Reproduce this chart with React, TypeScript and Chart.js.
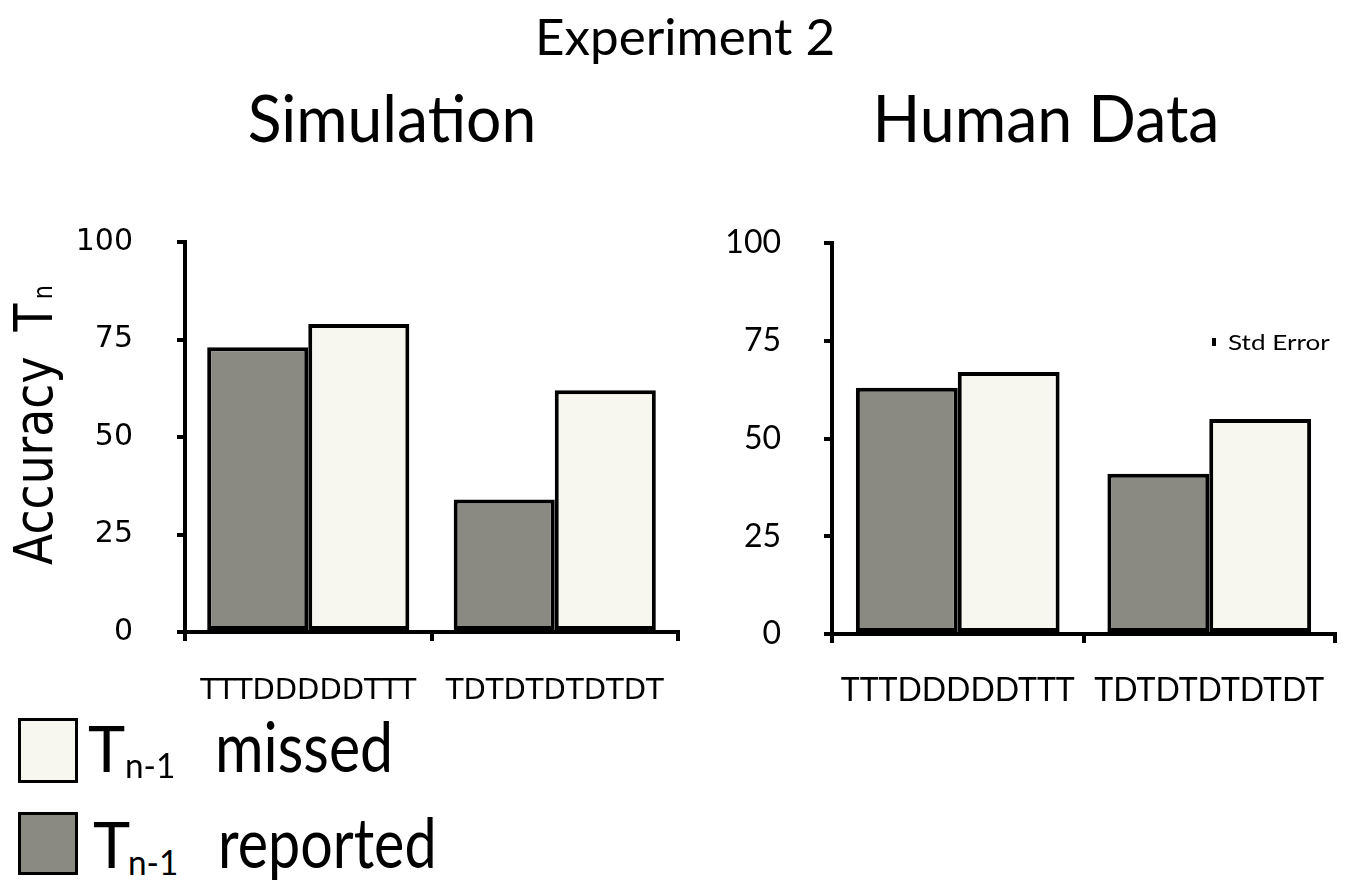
import React, { useEffect, useLayoutEffect, useRef, useState } from "react";
import { Chart, registerables } from "chart.js";

Chart.register(...registerables);

const categories = ["TTTDDDDDTTT", "TDTDTDTDTDT"];
const simReported = [73, 34];
const simMissed = [79, 62];
const humanReported = [63, 41];
const humanMissed = [67, 55];
const yMin = 0;
const yMax = 100;
const yStep = 25;

const DARK = "#8a8a82";
const LIGHT = "#f7f7f0";
const LATO = "Lato, 'Open Sans', sans-serif";
const DEJAVU = "'DejaVu Sans', Verdana, sans-serif";

type ChartProps = {
  left: number;
  top: number;
  width: number;
  height: number;
  area: { left: number; right: number; top: number; bottom: number };
  reported: number[];
  missed: number[];
  tickFont: { family: string; size: number };
  xFont: { family: string; size: number };
  yPad: number;
  xPad: number;
  catPct: number;
};

function BarChart(p: ChartProps) {
  const ref = useRef<HTMLCanvasElement>(null);
  useEffect(() => {
    const ctx = ref.current!;
    const chart = new Chart(ctx, {
      type: "bar",
      data: {
        labels: categories,
        datasets: [
          {
            label: "Tn-1 reported",
            data: p.reported,
            backgroundColor: DARK,
            borderColor: "#000",
            borderWidth: 4,
            borderSkipped: false,
          },
          {
            label: "Tn-1 missed",
            data: p.missed,
            backgroundColor: LIGHT,
            borderColor: "#000",
            borderWidth: 4,
            borderSkipped: false,
          },
        ],
      },
      options: {
        responsive: false,
        animation: false,
        devicePixelRatio: 1,
        datasets: { bar: { categoryPercentage: p.catPct, barPercentage: 1 } },
        layout: {
          padding: {
            left: 0,
            top: p.area.top,
            right: p.width - p.area.right,
            bottom: 0,
          },
        },
        plugins: { legend: { display: false }, tooltip: { enabled: false }, title: { display: false } },
        scales: {
          x: {
            type: "category",
            offset: true,
            grid: {
              display: true,
              offset: true,
              drawOnChartArea: false,
              drawTicks: true,
              tickLength: 9,
              color: "#000",
              lineWidth: 4,
            },
            border: { display: true, color: "#000", width: 4 },
            ticks: {
              color: "#000",
              font: { family: p.xFont.family, size: p.xFont.size },
              padding: p.xPad,
              maxRotation: 0,
              autoSkip: false,
            },
            afterFit: (s: any) => {
              s.height = p.height - p.area.bottom;
              s.paddingLeft = 0;
              s.paddingRight = 0;
            },
          },
          y: {
            type: "linear",
            min: yMin,
            max: yMax,
            grid: {
              display: true,
              drawOnChartArea: false,
              drawTicks: true,
              tickLength: 8,
              color: "#000",
              lineWidth: 4,
            },
            border: { display: true, color: "#000", width: 4 },
            ticks: {
              stepSize: yStep,
              color: "#000",
              font: { family: p.tickFont.family, size: p.tickFont.size },
              padding: p.yPad,
            },
            afterFit: (s: any) => {
              s.width = p.area.left;
              s.paddingTop = 0;
              s.paddingBottom = 0;
            },
          },
        },
      },
    } as any);
    return () => chart.destroy();
  }, []);
  return (
    <canvas
      ref={ref}
      width={p.width}
      height={p.height}
      style={{ position: "absolute", left: p.left, top: p.top, width: p.width, height: p.height }}
    />
  );
}

type FitProps = {
  x: number;
  baseline: number;
  width?: number;
  align?: "left" | "center";
  font: string;
  size: number;
  children: React.ReactNode;
};

function FitText({ x, baseline, width, align = "left", font, size, children }: FitProps) {
  const marker = useRef<HTMLSpanElement>(null);
  const inner = useRef<HTMLSpanElement>(null);
  const [m, setM] = useState<{ w: number; b: number } | null>(null);
  useLayoutEffect(() => {
    setM({ w: inner.current!.offsetWidth, b: marker.current!.offsetTop });
  }, []);
  const s = m && width ? width / m.w : 1;
  return (
    <div
      style={{
        position: "absolute",
        left: x,
        top: m ? baseline - m.b : baseline - size,
        fontFamily: font,
        fontSize: size,
        lineHeight: 1.2,
        whiteSpace: "nowrap",
        color: "#000",
        transform: align === "center" ? "translateX(-50%)" : undefined,
      }}
    >
      <span ref={marker} style={{ display: "inline-block", width: 0, height: 0, verticalAlign: "baseline" }} />
      <span
        ref={inner}
        style={{
          display: "inline-block",
          transform: `scaleX(${s})`,
          transformOrigin: align === "center" ? "50% 50%" : "0 50%",
        }}
      >
        {children}
      </span>
    </div>
  );
}

function YTitle() {
  const marker = useRef<HTMLSpanElement>(null);
  const inner = useRef<HTMLSpanElement>(null);
  const [m, setM] = useState<{ w: number; b: number } | null>(null);
  useLayoutEffect(() => {
    setM({ w: inner.current!.offsetWidth, b: marker.current!.offsetTop });
  }, []);
  const baseX = 52;
  const startY = 565;
  const len = 280;
  const s = m ? len / m.w : 1;
  return (
    <div
      style={{
        position: "absolute",
        left: m ? baseX - m.b : 0,
        top: startY,
        transformOrigin: "0 0",
        transform: "rotate(-90deg)",
        fontFamily: DEJAVU,
        fontSize: 53,
        lineHeight: 1.2,
        whiteSpace: "nowrap",
        color: "#000",
      }}
    >
      <span ref={marker} style={{ display: "inline-block", width: 0, height: 0, verticalAlign: "baseline" }} />
      <span ref={inner} style={{ display: "inline-block", transform: `scaleX(${s})`, transformOrigin: "0 50%" }}>
        <span>Accuracy</span>
        <span style={{ marginLeft: 29 }}>T</span>
        <span style={{ marginLeft: 5, fontSize: 26 }}>n</span>
      </span>
    </div>
  );
}

function LegendBox({ top, h, color }: { top: number; h: number; color: string }) {
  return (
    <div
      style={{
        position: "absolute",
        left: 18,
        top,
        width: 60,
        height: h,
        boxSizing: "border-box",
        border: "3px solid #000",
        background: color,
      }}
    />
  );
}

export default function App() {
  return (
    <div
      style={{
        position: "absolute",
        left: 0,
        top: 0,
        width: 1350,
        height: 882,
        background: "#fff",
        overflow: "hidden",
      }}
    >
      <FitText x={685} baseline={55} width={300} align="center" font={LATO} size={50}>
        Experiment 2
      </FitText>
      <FitText x={392} baseline={142} width={289} align="center" font={LATO} size={65}>
        Simulation
      </FitText>
      <FitText x={1046} baseline={142} width={347} align="center" font={LATO} size={65}>
        Human Data
      </FitText>

      <BarChart
        left={0}
        top={200}
        width={690}
        height={520}
        area={{ left: 185, right: 678, top: 42, bottom: 432 }}
        reported={simReported}
        missed={simMissed}
        tickFont={{ family: DEJAVU, size: 30 }}
        xFont={{ family: DEJAVU, size: 29 }}
        yPad={44}
        xPad={33}
        catPct={0.82}
      />
      <BarChart
        left={690}
        top={200}
        width={660}
        height={520}
        area={{ left: 142, right: 645, top: 43, bottom: 434 }}
        reported={humanReported}
        missed={humanMissed}
        tickFont={{ family: LATO, size: 32 }}
        xFont={{ family: LATO, size: 32 }}
        yPad={43}
        xPad={28}
        catPct={0.81}
      />

      <YTitle />

      <div style={{ position: "absolute", left: 1212, top: 338, width: 4, height: 8, background: "#000" }} />
      <FitText x={1228} baseline={350} width={102} font={LATO} size={22}>
        Std Error
      </FitText>

      <LegendBox top={718} h={65} color={LIGHT} />
      <FitText x={88} baseline={772} font={LATO} size={63}>
        T
      </FitText>
      <FitText x={125} baseline={778} width={50} font={LATO} size={34}>
        n-1
      </FitText>
      <FitText x={215} baseline={772} width={178} font={LATO} size={70}>
        missed
      </FitText>

      <LegendBox top={812} h={63} color={DARK} />
      <FitText x={93} baseline={868} font={LATO} size={63}>
        T
      </FitText>
      <FitText x={128} baseline={875} width={50} font={LATO} size={34}>
        n-1
      </FitText>
      <FitText x={218} baseline={868} width={219} font={LATO} size={70}>
        reported
      </FitText>
    </div>
  );
}
